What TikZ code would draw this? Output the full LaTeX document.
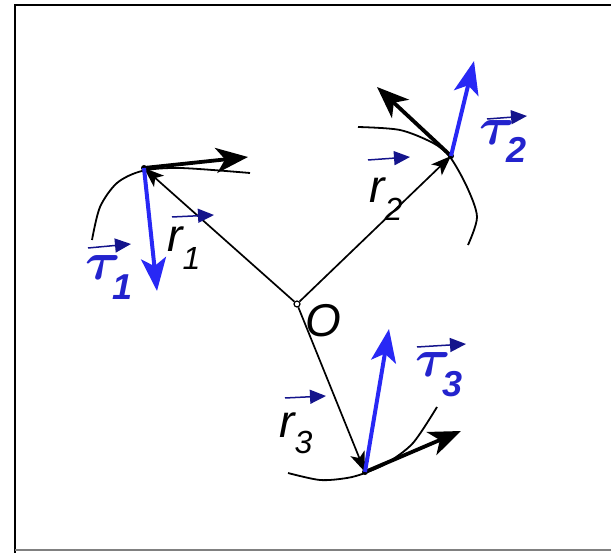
\RequirePackage{fix-cm}
\documentclass[tikz,border=0pt]{standalone}
\usepackage{amsmath}
\usepackage{fontspec}
\setmainfont{Liberation Sans}
\usetikzlibrary{arrows.meta}
\definecolor{fblue}{RGB}{40,40,245}
\definecolor{navy}{RGB}{20,20,140}
\definecolor{lblue}{RGB}{35,35,205}
\begin{document}
\begin{tikzpicture}[x=1pt,y=-1pt,
  radiusarrow/.style={black, line width=1.7pt, -{Stealth[length=20pt,width=15pt,inset=5pt]}},
  velarrow/.style={black, line width=3.8pt, -{Stealth[length=32pt,width=25pt,inset=9pt]}},
  forcearrow/.style={fblue, line width=4pt, -{Stealth[length=33pt,width=25pt,inset=8pt]}},
  trajline/.style={black, line width=1.8pt},
  vecarrow/.style={navy, line width=1.5pt, -{Triangle[length=16pt,width=14pt]}},
  dotnode/.style={circle, fill=black, inner sep=0pt, minimum size=6pt},
  rlabel/.style={anchor=base west, inner sep=0pt, font=\fontsize{46}{46}\selectfont\itshape},
  tlabel/.style={anchor=base west, inner sep=0pt, text=lblue, font=\fontsize{36}{36}\selectfont\bfseries\itshape}
]
\useasboundingbox (0,0) rectangle (611,553);
% frame
\draw[black, line width=2.6pt] (15,553) -- (15,5) -- (611,5);
\draw[gray, line width=2pt] (15,550) -- (611,550);

% trajectories
\draw[trajline] plot[smooth] coordinates {(92,240) (100,207) (117,183) (142,171) (180,168) (250,173)};
\draw[trajline] plot[smooth] coordinates {(358,127) (400,130) (433,143) (450,157) (467,187) (477,217) (468,245)};
\draw[trajline] plot[smooth] coordinates {(288,473) (320,480) (347,478) (365,473) (387,463) (413,443) (437,407)};

% points
\node[circle, draw, line width=1.2pt, fill=white, inner sep=0pt, minimum size=6pt] (O) at (297,304) {};
\node[dotnode] (P1) at (144,168) {};
\node[dotnode] (P2) at (451,156) {};
\node[dotnode] (P3) at (365,472) {};

% arrow end coordinates
\coordinate (V1) at (248,157);
\coordinate (F1) at (157,291);
\coordinate (V2) at (377,87);
\coordinate (F2) at (474,61);
\coordinate (V3) at (461,431);
\coordinate (F3) at (389,329);

% radius vectors
\draw[radiusarrow] (O) -- (P1.center);
\draw[radiusarrow] (O) -- (P2.center);
\draw[radiusarrow] (O) -- (P3.center);

% velocity (black) and force (blue) arrows
\draw[velarrow] (P1.center) -- (V1);
\draw[forcearrow] (P1.center) -- (F1);
\draw[velarrow] (P2.center) -- (V2);
\draw[forcearrow] (P2.center) -- (F2);
\draw[velarrow] (P3.center) -- (V3);
\draw[forcearrow] (P3.center) -- (F3);

% labels
\node[font=\fontsize{46}{46}\selectfont\itshape, inner sep=0pt] (Ol) at (323,321) {O};
\node[rlabel] (r1) at (167,252) {r\raisebox{-0.39em}{\fontsize{32}{32}\selectfont 1}};
\node[rlabel] (r2) at (369,203) {r\raisebox{-0.37em}{\fontsize{32}{32}\selectfont 2}};
\node[rlabel] (r3) at (279,438) {r\raisebox{-0.33em}{\fontsize{32}{32}\selectfont 3}};
\node[tlabel] (t1) at (85,280) {{\fontsize{54}{54}\selectfont$\boldsymbol{\tau}$}\kern-0.22em\raisebox{-0.55em}{1}};
\node[tlabel] (t2) at (479,145) {{\fontsize{54}{54}\selectfont$\boldsymbol{\tau}$}\kern-0.22em\raisebox{-0.5em}{2}};
\node[tlabel] (t3) at (415,377) {{\fontsize{54}{54}\selectfont$\boldsymbol{\tau}$}\kern-0.22em\raisebox{-0.55em}{3}};

% vector marks
\coordinate (r1a) at (172,217); \coordinate (r1b) at (214,215);
\coordinate (r2a) at (368,160); \coordinate (r2b) at (410,157);
\coordinate (r3a) at (285,398); \coordinate (r3b) at (326,396);
\coordinate (t1a) at (88,248);  \coordinate (t1b) at (131,244);
\coordinate (t2a) at (487,119); \coordinate (t2b) at (527,116);
\coordinate (t3a) at (417,347); \coordinate (t3b) at (466,344);
\draw[vecarrow] (r1a) -- (r1b);
\draw[vecarrow] (r2a) -- (r2b);
\draw[vecarrow] (r3a) -- (r3b);
\draw[vecarrow] (t1a) -- (t1b);
\draw[vecarrow] (t2a) -- (t2b);
\draw[vecarrow] (t3a) -- (t3b);
\end{tikzpicture}
\end{document}
